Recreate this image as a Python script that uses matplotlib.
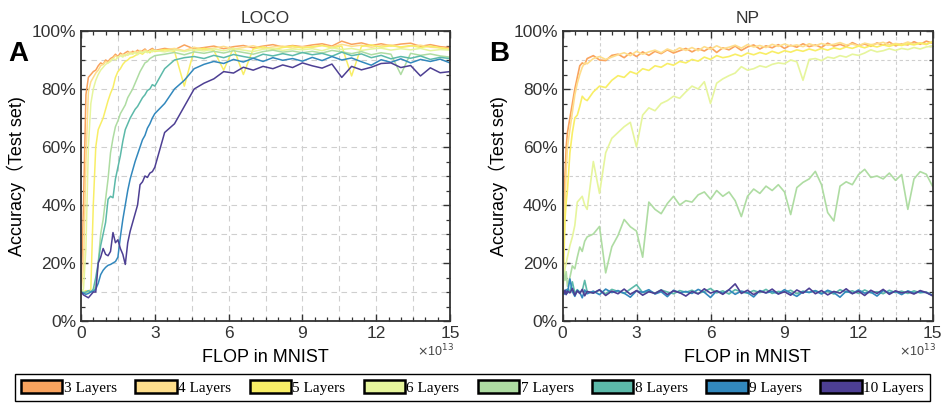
import numpy as np
import matplotlib.pyplot as plt
from matplotlib.patches import Patch
from matplotlib.ticker import MultipleLocator, FuncFormatter

plt.rcParams['font.family'] = ['Liberation Sans', 'Noto Sans CJK SC', 'DejaVu Sans']

# ---- data (accuracy in %, FLOP in units of 1e13) ----
labels = ["3 Layers", "4 Layers", "5 Layers", "6 Layers",
          "7 Layers", "8 Layers", "9 Layers", "10 Layers"]
colors = ["#F9A35E", "#FEDE8C", "#F8EE66", "#E6F59C",
          "#AEDCA2", "#5CB9A9", "#3288BD", "#4D3F93"]

x_loco = np.round(np.concatenate([np.arange(0, 3.01, 0.1), np.arange(3.4, 15.01, 0.4)]), 2)
x_np = np.round(np.concatenate([[0, 0.05, 0.1, 0.15, 0.2, 0.3, 0.4, 0.5, 0.6, 0.7, 0.8, 0.9, 1.0],
                                np.arange(1.25, 15.01, 0.25)]), 2)

loco_3 = [10, 40, 78, 84, 85, 86, 86.5, 88, 89, 88.5, 90,
          89.5, 90.5, 91, 92, 91.2, 92.4, 91.8, 92.5, 93, 92.2,
          93, 92.6, 93.4, 92.8, 93.2, 93.8, 92.9, 93.5, 94, 93.3,
          94, 93.5, 95.2, 93.8, 94.3, 94.8, 93.9, 94.6, 95, 94.2, 94.8, 95.3, 94.5, 95, 94.6,
          95.2, 95.6, 94.8, 96.5, 95.4, 95.9, 95, 95.6, 94.9, 95.5, 95.8, 94.7, 95.3, 94.6, 94.3]
loco_4 = [10, 18, 55, 79, 82.5, 84, 85.5, 86.5, 88, 88.5, 89.5,
          89, 90, 90.5, 91.5, 90.8, 91.6, 92, 91.4, 92.3, 92.8,
          92.2, 93, 92.5, 93.3, 92.7, 93.4, 93, 92.6, 93.6, 93.1,
          93.5, 94, 93.2, 94.4, 93.6, 94.1, 94.7, 93.8, 94.3, 94.9, 94, 94.5, 94.8, 94.1, 94.6,
          94.3, 95, 94.5, 95.4, 94.7, 95.1, 94.4, 94.9, 95.2, 94.3, 94.8, 95.1, 94.4, 94.2, 93.8]
loco_5 = [10, 10, 10.5, 10, 11, 40, 60, 66, 68, 70, 73,
          76, 78.5, 80.5, 84, 86, 87, 88.5, 89.5, 90, 90.8,
          91, 91.5, 92, 92.4, 92, 92.8, 93, 92.5, 93.4, 92.9,
          93.6, 93, 81, 93.5, 94, 93.3, 86.5, 94.2, 85, 93.8, 94.5, 93.6, 94.3, 94.8, 94.1,
          94.6, 95, 94.2, 94.8, 84.5, 94.7, 95.2, 94.4, 94.9, 94.5, 95, 94.3, 94.8, 94.2, 93.6]
loco_6 = [10, 11, 25, 60, 75, 80, 83, 85, 86.5, 87.5, 88.5,
          89, 89.5, 90.5, 90, 91, 91.5, 91, 92, 91.6, 92.2,
          92, 92.6, 91.8, 92.8, 92.4, 93, 92.5, 93.2, 92.8, 93.3,
          92.8, 93.5, 92.9, 93.6, 93.1, 93.8, 93.2, 93.9, 93.4, 92.9, 93.7, 94, 93.3, 93.8, 93.5,
          93.9, 93.2, 94.2, 93.6, 94, 93.3, 93.8, 94.1, 93.4, 93.9, 93.5, 94, 93.2, 93.6, 93.4]
loco_7 = [10, 10.2, 9.8, 10, 10.3, 10.5, 12, 20, 30, 35, 42,
          49, 58, 63, 67, 69, 71.5, 73, 74.5, 77, 78.5,
          80, 82, 84, 86, 87.5, 89, 89.5, 90.5, 91, 91.5,
          92, 92.6, 91.8, 92.8, 92.3, 93, 92.4, 93.2, 92.6, 92, 92.9, 93.4, 92.7, 93.1, 92.5,
          93, 92.4, 93.3, 92.8, 92.2, 92.9, 91.8, 92.5, 92, 85, 92.3, 91.6, 92.1, 91.4, 91]
loco_8 = [10, 9.5, 10, 10.5, 10, 11, 15, 20, 26, 30, 34,
          42, 43, 42.5, 49, 53, 57, 62, 66, 68, 70,
          71.5, 73, 74, 75.5, 77, 78, 79.5, 80, 81.5, 81,
          87, 90, 90.8, 91.2, 90.5, 91.6, 90.8, 91.9, 91.2, 90.6, 92, 91.4, 92.2, 91.5, 92.6,
          91.8, 92.3, 91.3, 92.7, 91.5, 92.1, 90.8, 91.6, 90.4, 91.2, 90.6, 91.4, 90.2, 90.9, 90.5]
loco_9 = [10, 9.6, 9.2, 9.5, 10, 10.2, 11, 13, 16, 17.5, 18.5,
          19.2, 19.5, 20, 20.5, 22, 29, 35, 40, 45, 49,
          52, 55, 57.5, 60, 62.5, 64, 66.5, 68, 70, 71.5,
          75, 80, 83, 87, 88.5, 89.5, 88.8, 90.2, 89.3, 90.6, 89.5, 90.8, 89.9, 90.5, 89.6,
          90.9, 89.8, 91.2, 90, 90.7, 89.4, 88.2, 90.1, 89.2, 90.4, 89, 90.2, 89.5, 90.3, 89]
loco_10 = [10, 9, 8.5, 8, 9, 10, 10, 20, 22, 25, 23,
           22.5, 24, 30.5, 27, 28, 25, 23, 19.5, 27, 31,
           34, 37, 40, 47, 48, 50, 49.5, 51, 51.5, 53,
           65, 68, 74, 80, 82, 83.5, 86, 85.5, 87.5, 86.5, 87.8, 87, 88.3, 87.4, 89,
           88, 87.2, 88.6, 84, 87.8, 86.6, 87.5, 88.8, 89, 87.4, 88.1, 84.5, 87.3, 85.6, 86]

np_3 = [12, 30, 50, 60, 65, 70, 75, 80, 84, 88, 89, 88.5, 90.5,
        91.5, 90, 89.8, 91.6, 92, 90.8, 92.5, 91.2, 92.8, 91.6, 93, 92.2, 93.5, 92.4, 93.2, 94,
        92.8, 93.9, 93.1, 94.4, 92.6, 94.2, 93.5, 94.8, 93.3, 94.5, 95.2, 93.8, 94.9, 94.2, 95.3, 94, 95.1, 94.4, 95.6, 94.6,
        95.2, 94.3, 95.8, 94.8, 95.4, 94.6, 96, 95, 95.5, 94.7, 95.9, 95.1, 96.2, 94.9, 95.6, 95.2, 96.3, 95.4, 96.5, 95.8]
np_4 = [10, 22, 40, 52, 60, 66, 72, 78, 82, 85, 87.5, 89, 88.7,
        90.5, 91.2, 90.2, 91, 91.8, 92.5, 91.5, 93, 92, 92.8, 93.4, 92.5, 93.8, 93, 94.2, 93.3,
        94.3, 93.2, 94.6, 93.7, 94.9, 93.9, 94.4, 95.1, 94.1, 95.3, 94.5, 95, 94.3, 95.4, 94.7, 95.5, 94.8, 95.2, 94.6, 95.6,
        94.9, 95.7, 95.1, 95.4, 96, 95.2, 95.5, 94.9, 95.8, 95.3, 95.6, 96.1, 95.2, 95.7, 95.4, 96.2, 95.5, 95.9, 95.3, 96.4]
np_5 = [10, 20, 35, 41, 45, 58, 65, 70, 71, 74, 77.5, 76.5, 76,
        79, 81, 80.5, 83, 84.6, 84, 86, 85.2, 87, 86.4, 88, 87.5, 88.8, 88.2, 89.5, 89,
        90.2, 89.6, 91, 90.2, 91.5, 90.8, 91.2, 92, 91.3, 92.4, 91.8, 92.6, 92, 93, 92.3, 93.2, 92.7, 93.5, 93, 93.8,
        93.2, 94, 93.4, 94.2, 93.7, 94.5, 94, 94.8, 94.2, 95, 94.5, 95.2, 94.7, 95.4, 95, 95.6, 95.2, 95.8, 95.5, 96.2]
np_6 = [10, 14, 18, 20, 22, 26, 29, 33, 41, 42, 43, 40, 38.5,
        55, 44, 58, 63, 65, 67, 68.5, 60, 71, 73.5, 72.5, 75, 76, 77.5, 76.8, 79,
        81, 80, 82.5, 75, 82, 83.5, 84.6, 85.5, 87.7, 86.5, 87, 88, 87.5, 88.5, 89, 88.7, 90, 89.4, 83, 90.2,
        90.5, 89.8, 91, 90.6, 91.5, 91, 92, 91.6, 92.4, 93.5, 92.8, 93.2, 93.9, 93.3, 94, 93.6, 94.3, 93.8, 94.5, 94.8]
np_7 = [20, 16, 14, 17, 12, 15, 19, 18, 22, 25.5, 24, 27.5, 29,
        30, 32.6, 16.6, 25.6, 29.5, 35, 32.5, 31, 22, 41, 38.5, 37, 40.5, 43, 40, 41.5,
        41, 43.5, 44.5, 42, 45, 43, 44.5, 41.5, 36, 43, 45.5, 44, 46.5, 45, 47, 44.5, 36.7, 46, 47.8, 49,
        51.6, 47, 37.4, 34.5, 46.5, 48, 47, 50.5, 52.3, 49.5, 50, 49, 51, 48.5, 50.5, 38.5, 49, 51.5, 50.6, 46.5]
np_8 = [10, 9.5, 10.5, 9.8, 11, 10.2, 13.5, 9.6, 10.8, 9.9, 10.4, 14, 10.1,
        9.7, 10.6, 9.4, 10.9, 10.2, 9.5, 11, 12.5, 9.8, 10.3, 9.6, 10.7, 10, 9.4, 10.5, 9.9,
        10.6, 9.5, 10.2, 11.2, 9.7, 10.4, 9.3, 10.8, 10, 9.6, 10.5, 9.8, 10.9, 9.5, 10.2, 9.9, 10.6, 9.4, 10.3, 9.8,
        10.5, 9.6, 10.2, 9.3, 10.8, 9.9, 10.4, 9.5, 10.7, 9.7, 10.1, 9.4, 10.6, 9.8, 10.3, 9.5, 10.4, 9.7, 10, 8.8]
np_9 = [10, 10.4, 9.2, 10.8, 9.6, 14.5, 10.2, 8.5, 10.6, 9.9, 8, 10.7, 9.4,
        10.3, 9.1, 11, 9.8, 10.5, 9.6, 8.2, 10.4, 9.9, 10.8, 9.3, 10.1, 8.4, 10.6, 9.7, 10.2,
        9.5, 10.9, 9.9, 8.1, 10.4, 9.6, 10.7, 9.2, 10.3, 9.8, 8.3, 10.5, 9.7, 10.2, 9.4, 10.8, 9.6, 8.5, 10.1, 9.9,
        10.4, 9.3, 10.6, 9.8, 8.2, 10.3, 9.5, 10.7, 9.6, 10, 8.6, 10.5, 9.7, 10.2, 9.1, 10.4, 9.6, 10.1, 9.8, 8.9]
np_10 = [10, 9.4, 10.6, 9.1, 10.3, 9.7, 11.2, 8.9, 10.4, 9.5, 10.9, 8.7, 10.2,
         9.6, 10.8, 8.8, 10.3, 9.4, 11, 9.2, 10.5, 8.9, 10.1, 9.5, 10.7, 9.1, 10.4, 9.8, 8.6,
         10.2, 9.3, 11.1, 9.6, 10.4, 9.2, 10.8, 12.8, 9.5, 10.6, 9.1, 10.3, 9.7, 11, 9.3, 10.1, 8.9, 10.7, 9.6, 11.3,
         9.4, 10.5, 9, 10.2, 9.6, 11.1, 9.4, 10.3, 8.8, 10.6, 9.5, 10.9, 9.2, 10.4, 9.7, 10.1, 9.3, 10.5, 9.8, 8.7]

loco_series = [loco_3, loco_4, loco_5, loco_6, loco_7, loco_8, loco_9, loco_10]
np_series = [np_3, np_4, np_5, np_6, np_7, np_8, np_9, np_10]


def style_axes(ax, title, dash):
    """Apply the shared look of both panels."""
    ax.set_xlim(0, 15)
    ax.set_ylim(0, 100)
    ax.xaxis.set_major_locator(MultipleLocator(3))
    ax.xaxis.set_minor_locator(MultipleLocator(0.5))
    ax.yaxis.set_major_locator(MultipleLocator(20))
    ax.yaxis.set_minor_locator(MultipleLocator(5))
    ax.yaxis.set_major_formatter(FuncFormatter(lambda v, p: f"{v:.0f}%"))
    for g in np.arange(1.5, 15, 1.5):
        ax.axvline(g, color="#cfcfcf", lw=0.8, ls=(0, dash), zorder=0)
    for g in range(10, 100, 10):
        ax.axhline(g, color="#cfcfcf", lw=0.8, ls=(0, dash), zorder=0)
    ax.tick_params(which="both", direction="in", top=True, right=True,
                   color="#333333", labelcolor="#333333", labelsize=12.5)
    ax.tick_params(which="major", length=5, width=1)
    ax.tick_params(which="minor", length=3, width=0.9)
    for s in ax.spines.values():
        s.set_color("#333333")
        s.set_linewidth(1.3)
    ax.set_title(title, fontsize=12.5, color="#333333", pad=6)
    ax.set_xlabel("FLOP in MNIST", fontsize=13, labelpad=6)
    ax.set_ylabel("Accuracy（Test set)", fontsize=13, labelpad=4)
    ax.text(1.01, -0.105, r"$\times$10$^{13}$", transform=ax.transAxes,
            ha="right", va="center", fontsize=9, color="#444444")


fig = plt.figure(figsize=(9.43, 4.04), dpi=100)
ax_a = fig.add_axes([81 / 943, 83 / 404, 369 / 943, 290 / 404])
ax_b = fig.add_axes([562.5 / 943, 83 / 404, 370 / 943, 290 / 404])

for ys, c in zip(loco_series, colors):
    ax_a.plot(x_loco, ys, color=c, lw=1.1)
for ys, c in zip(np_series, colors):
    ax_b.plot(x_np, ys, color=c, lw=1.2)

style_axes(ax_a, "LOCO", (5, 4))
style_axes(ax_b, "NP", (3, 2.5))

fig.text(8 / 943, 1 - 61 / 404, "A", fontsize=20, fontweight="bold", va="baseline")
fig.text(489 / 943, 1 - 61 / 404, "B", fontsize=20, fontweight="bold", va="baseline")

handles = [Patch(facecolor=c, edgecolor="black", linewidth=1.8) for c in colors]
leg = fig.legend(handles, labels, loc="lower left",
                 bbox_to_anchor=(15 / 943, 3 / 404, 915 / 943, 29 / 404),
                 mode="expand", ncol=8, fancybox=False, edgecolor="black",
                 framealpha=1, borderaxespad=0, handlelength=2.7, handleheight=1.0,
                 handletextpad=0.1, columnspacing=1.0,
                 prop={"family": "Liberation Serif", "size": 11})
leg.get_frame().set_linewidth(1.0)

fig.savefig("out.png", dpi=100)
